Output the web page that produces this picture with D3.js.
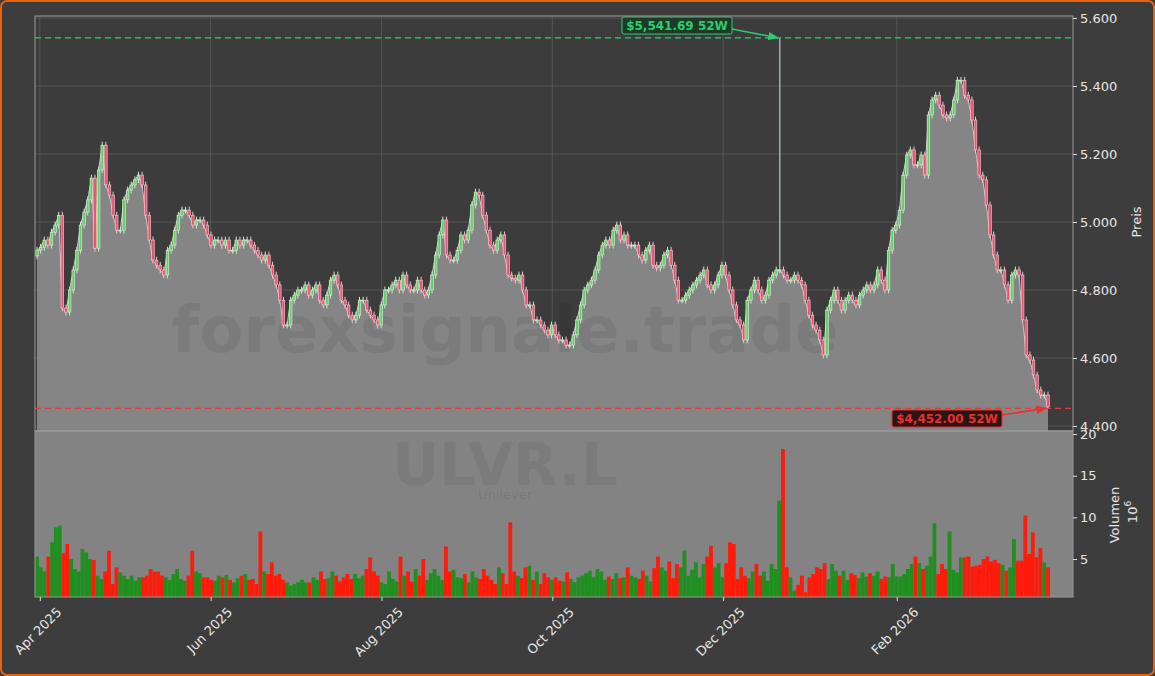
<!DOCTYPE html>
<html><head><meta charset="utf-8">
<script src="https://cdn.jsdelivr.net/npm/d3@7"></script>
<style>
html,body{margin:0;padding:0;background:#3d3d3d;}
svg{display:block;font-family:"DejaVu Sans",sans-serif;}
</style></head><body>
<svg id="c" width="1155" height="676"></svg>
<script>
const startDate = "2025-03-31", endDate = "2026-03-27";
const closes = [4.917,4.926,4.947,4.932,4.970,4.991,5.020,4.747,4.735,4.800,
4.859,4.917,4.991,5.029,5.065,5.129,4.923,5.153,5.226,5.109,
5.079,5.020,4.976,4.976,5.065,5.094,5.109,5.124,5.138,5.109,
5.020,4.947,4.888,4.873,4.859,4.844,4.917,4.932,4.976,5.020,
5.035,5.035,5.020,4.991,5.006,5.006,4.991,4.962,4.932,4.947,
4.947,4.932,4.947,4.917,4.917,4.947,4.932,4.947,4.947,4.932,
4.917,4.903,4.888,4.903,4.873,4.844,4.815,4.770,4.697,4.697,
4.770,4.785,4.800,4.800,4.815,4.785,4.800,4.815,4.770,4.756,
4.785,4.829,4.844,4.815,4.770,4.756,4.726,4.712,4.726,4.770,
4.770,4.741,4.726,4.712,4.697,4.756,4.800,4.800,4.815,4.829,
4.800,4.844,4.815,4.800,4.800,4.829,4.800,4.785,4.800,4.844,
4.903,4.962,5.006,4.903,4.888,4.888,4.917,4.962,4.947,4.976,
5.050,5.088,5.079,5.020,4.976,4.932,4.917,4.947,4.962,4.903,
4.844,4.835,4.829,4.844,4.800,4.756,4.756,4.712,4.712,4.697,
4.682,4.668,4.697,4.668,4.653,4.653,4.638,4.638,4.668,4.712,
4.756,4.800,4.815,4.829,4.859,4.903,4.932,4.947,4.932,4.976,
4.991,4.947,4.962,4.932,4.932,4.932,4.903,4.888,4.917,4.932,
4.873,4.865,4.873,4.903,4.917,4.873,4.829,4.770,4.770,4.785,
4.800,4.815,4.829,4.844,4.859,4.815,4.800,4.815,4.844,4.873,
4.844,4.800,4.756,4.712,4.697,4.653,4.770,4.800,4.829,4.800,
4.770,4.785,4.829,4.844,4.859,4.859,4.844,4.829,4.829,4.844,
4.829,4.815,4.770,4.726,4.697,4.682,4.653,4.609,4.741,4.770,
4.800,4.770,4.741,4.770,4.785,4.770,4.756,4.785,4.800,4.815,
4.800,4.815,4.859,4.829,4.800,4.917,4.976,4.991,5.035,5.138,
5.197,5.212,5.168,5.168,5.197,5.138,5.315,5.359,5.373,5.344,
5.315,5.306,5.315,5.359,5.417,5.417,5.373,5.359,5.300,5.212,
5.138,5.124,5.050,4.962,4.903,4.859,4.859,4.815,4.770,4.844,
4.859,4.844,4.712,4.609,4.594,4.550,4.506,4.491,4.491,4.456];
const firstOpen = 4.90;
const highSpikes = {205: 5.5417};
const lowSpikes = {279: 4.452};
const volumes = [5.3,4.0,3.5,5.3,7.0,8.8,9.0,5.7,6.8,5.0,3.8,
3.5,6.2,5.8,5.0,4.9,3.0,2.6,3.5,6.0,2.0,
4.0,3.4,3.0,2.6,3.0,2.4,2.8,2.8,3.0,3.8,3.5,3.5,3.0,2.8,2.5,
3.2,3.8,2.6,2.4,3.0,6.0,3.5,3.3,2.8,2.8,2.5,
2.4,3.0,2.8,3.1,2.5,2.2,2.7,3.0,3.2,2.5,2.6,2.0,8.3,3.5,3.2,
4.6,3.0,3.2,2.5,2.2,1.8,2.0,2.2,2.5,2.2,
2.2,2.8,2.5,3.5,2.6,2.7,3.5,3.0,2.3,2.8,3.2,
2.6,3.2,2.7,3.0,3.8,5.2,3.5,3.0,2.2,2.0,3.5,
2.6,2.3,5.3,3.0,3.5,2.3,3.8,3.0,5.0,2.5,3.3,
3.8,3.0,2.5,6.5,3.5,3.7,2.8,2.7,3.2,2.2,
3.5,2.8,2.6,3.8,3.0,2.5,2.0,4.0,3.3,2.0,9.4,
3.5,3.0,2.7,4.0,4.2,2.5,3.5,2.0,3.3,2.8,2.5,
2.8,2.4,2.3,3.4,2.6,2.2,2.8,3.0,
3.3,3.6,2.8,3.8,3.5,2.5,2.9,2.6,3.3,2.7,2.8,
4.0,3.0,2.8,2.6,3.6,3.0,2.3,3.9,5.3,4.0,3.6,
4.7,2.7,4.4,4.0,6.0,3.0,3.7,4.6,2.8,4.4,5.3,
6.6,4.0,4.5,2.8,4.5,7.0,6.8,2.6,4.0,3.0,2.7,
3.5,4.4,3.0,3.5,2.4,4.4,3.8,12.0,18.2,4.0,2.8,
1.2,1.9,3.0,1.0,2.8,3.2,4.0,3.8,4.5,2.6,4.4,
3.6,3.0,3.6,2.5,3.3,3.1,2.7,3.4,2.9,3.3,3.0,3.5,2.6,2.9,2.8,4.4,
2.9,2.9,3.2,3.8,4.4,5.3,4.5,3.8,4.2,5.3,9.3,
3.2,4.4,3.8,
8.3,3.7,3.4,5.2,5.2,5.3,
4.1,4.2,4.3,5.0,5.3,4.7,4.9,4.5,4.3,3.6,4.0,
7.4,4.8,4.8,10.2,5.6,8.2,5.2,6.3,4.6,4.0];
const priceTicks = [4.4,4.6,4.8,5.0,5.2,5.4,5.6];
const volTicks = [5,10,15,20];
const xTickDates = ["2025-04-01","2025-06-01","2025-08-01","2025-10-01","2025-12-01","2026-02-01"];
const high52 = 5541.69, low52 = 4452.00;

const svg = d3.select("#c");
const L=35,R=1073,T=16,PB=431,VB=597;
svg.append("rect").attr("x",1).attr("y",1).attr("width",1153).attr("height",674).attr("rx",6)
  .attr("fill","#3d3d3d").attr("stroke","#e8630a").attr("stroke-width",2);
svg.append("rect").attr("x",L).attr("y",T).attr("width",R-L).attr("height",PB-T).attr("fill","#3c3c3c");
svg.append("rect").attr("x",L).attr("y",PB).attr("width",R-L).attr("height",VB-PB).attr("fill","#838383");

const t0=new Date(startDate+"T00:00:00"), t1=new Date(endDate+"T00:00:00");
const idxTime = d3.scaleLinear().domain([0,closes.length-1]).range([t0.getTime(),t1.getTime()]);
const x = d3.scaleTime().domain([t0,t1]).range([37,1048]);
const y = d3.scaleLinear().domain([4.4,5.6]).range([426,18]);
const yv = d3.scaleLinear().domain([0,20]).range([600.7,434]);

const data = closes.map((c,i)=>{
  const o = i===0?firstOpen:closes[i-1];
  return {i,t:new Date(idxTime(i)),o,c,
    h: highSpikes[i]!==undefined?highSpikes[i]:Math.max(o,c)+0.01,
    l: lowSpikes[i]!==undefined?lowSpikes[i]:Math.min(o,c)-0.01};
});

const g = svg.append("g");
priceTicks.forEach(p=>g.append("line").attr("x1",L).attr("x2",R).attr("y1",y(p)).attr("y2",y(p)).attr("stroke","#5a5a5a").attr("stroke-width",0.8));
xTickDates.forEach(d=>{const xx=x(new Date(d+"T00:00:00"));
  g.append("line").attr("x1",xx).attr("x2",xx).attr("y1",T).attr("y2",PB).attr("stroke","#5a5a5a").attr("stroke-width",0.8);});

const area = d3.area().x(d=>x(d.t)).y0(PB).y1(d=>y(d.c));
svg.append("path").datum(data).attr("d",area).attr("fill","#858585");
svg.append("path").datum(data).attr("d",d3.line().x(d=>x(d.t)).y(d=>y(d.c))).attr("fill","none").attr("stroke","#c8c8c8").attr("stroke-width",1);
svg.append("text").attr("x",505).attr("y",352).attr("text-anchor","middle").attr("font-size",64).attr("font-weight","bold")
  .attr("fill","#000").attr("fill-opacity",0.07).text("forexsignale.trade");

const cw=2.6;
const cg=svg.append("g");
data.forEach(d=>{
  const up=d.c>=d.o, xx=x(d.t);
  cg.append("line").attr("x1",xx).attr("x2",xx).attr("y1",y(d.h)).attr("y2",y(d.l)).attr("stroke",up?"#cfe8cf":"#eec5cf").attr("stroke-width",1);
  const top=y(Math.max(d.o,d.c)), bot=y(Math.min(d.o,d.c));
  cg.append("rect").attr("x",xx-cw/2).attr("y",top).attr("width",cw).attr("height",Math.max(1,bot-top))
    .attr("fill",up?"#5fd35f":"#f0506e").attr("stroke",up?"#e0f5e0":"#f8d0da").attr("stroke-width",0.6);
});

svg.append("line").attr("x1",L).attr("x2",R).attr("y1",y(high52/1000)).attr("y2",y(high52/1000)).attr("stroke","#2ecc71").attr("stroke-width",1.3).attr("stroke-dasharray","6,4");
svg.append("line").attr("x1",L).attr("x2",R).attr("y1",y(low52/1000)).attr("y2",y(low52/1000)).attr("stroke","#e03c3c").attr("stroke-width",1.3).attr("stroke-dasharray","6,4");
const defs=svg.append("defs");
[["ag","#2ecc71"],["ar","#e83030"]].forEach(([id,c])=>defs.append("marker").attr("id",id).attr("viewBox","0 0 10 10").attr("refX",9).attr("refY",5)
  .attr("markerWidth",7).attr("markerHeight",7).attr("orient","auto").append("path").attr("d","M0,1L10,5L0,9z").attr("fill",c));
const hx=x(data[205].t);
svg.append("line").attr("x1",732).attr("y1",29).attr("x2",hx-2).attr("y2",y(high52/1000)).attr("stroke","#2ecc71").attr("stroke-width",1.5).attr("marker-end","url(#ag)");
svg.append("rect").attr("x",622).attr("y",17).attr("width",110).attr("height",17).attr("rx",2).attr("fill","#1d3a24").attr("stroke","#2ecc71").attr("stroke-width",1);
svg.append("text").attr("x",677).attr("y",30).attr("text-anchor","middle").attr("font-size",12).attr("font-weight","bold").attr("fill","#2ecc71")
  .text("$"+d3.format(",.2f")(high52)+" 52W");
const lx=x(data[279].t);
svg.append("line").attr("x1",1002).attr("y1",415).attr("x2",lx-2).attr("y2",y(low52/1000)).attr("stroke","#e83030").attr("stroke-width",1.5).attr("marker-end","url(#ar)");
svg.append("rect").attr("x",892).attr("y",410).attr("width",110).attr("height",17).attr("rx",2).attr("fill","#2a1414").attr("stroke","#e83030").attr("stroke-width",1);
svg.append("text").attr("x",947).attr("y",423).attr("text-anchor","middle").attr("font-size",12).attr("font-weight","bold").attr("fill","#e83030")
  .text("$"+d3.format(",.2f")(low52)+" 52W");

svg.append("text").attr("x",505).attr("y",485).attr("text-anchor","middle").attr("font-size",58).attr("font-weight","bold").attr("fill","#000").attr("fill-opacity",0.06).text("ULVR.L");
svg.append("text").attr("x",505).attr("y",499).attr("text-anchor","middle").attr("font-size",13).attr("fill","#000").attr("fill-opacity",0.08).text("Unilever");

const vIdx = d3.scaleLinear().domain([0,volumes.length-1]).range([0,closes.length-1]);
const vg=svg.append("g");
volumes.forEach((v,i)=>{
  const di=Math.round(vIdx(i)), d=data[di];
  const xx=x(new Date(idxTime(vIdx(i))));
  vg.append("rect").attr("x",xx-1.9).attr("width",3.8).attr("y",yv(v)).attr("height",Math.max(0,VB-yv(v)))
    .attr("fill",d.c>=d.o?"#1f8f1f":"#ff1a0a");
});

svg.append("rect").attr("x",L).attr("y",T).attr("width",R-L).attr("height",PB-T).attr("fill","none").attr("stroke","#9a9a9a").attr("stroke-width",1);
svg.append("rect").attr("x",L).attr("y",PB).attr("width",R-L).attr("height",VB-PB).attr("fill","none").attr("stroke","#9a9a9a").attr("stroke-width",1);

const ay=svg.append("g").attr("transform",`translate(${R},0)`).call(d3.axisRight(y).tickValues(priceTicks).tickFormat(d3.format(".3f")).tickSize(4));
const av=svg.append("g").attr("transform",`translate(${R},0)`).call(d3.axisRight(yv).tickValues(volTicks).tickFormat(d3.format("d")).tickSize(4));
const ax=svg.append("g").attr("transform",`translate(0,${VB})`).call(d3.axisBottom(x).tickValues(xTickDates.map(d=>new Date(d+"T00:00:00"))).tickFormat(d3.timeFormat("%b %Y")).tickSize(4));
[ay,av,ax].forEach(a=>{a.select(".domain").remove();a.selectAll("line").attr("stroke","#ddd");
  a.selectAll("text").attr("fill","#e6e6e6").attr("font-size",13).attr("font-family","DejaVu Sans");});
ax.selectAll("text").attr("text-anchor","end").attr("x",0).attr("y",0).attr("dy",0)
  .attr("transform","translate(22,16) rotate(-45)");

svg.append("text").attr("transform","translate(1141,222) rotate(-90)").attr("text-anchor","middle").attr("font-size",13).attr("fill","#e6e6e6").text("Preis");
svg.append("text").attr("transform","translate(1119,515) rotate(-90)").attr("text-anchor","middle").attr("font-size",13).attr("fill","#e6e6e6").text("Volumen");
const e=svg.append("text").attr("transform","translate(1137,512) rotate(-90)").attr("text-anchor","middle").attr("font-size",13).attr("fill","#e6e6e6");
e.append("tspan").text("10");e.append("tspan").attr("font-size",9).attr("dy","-6").text("6");
</script></body></html>
